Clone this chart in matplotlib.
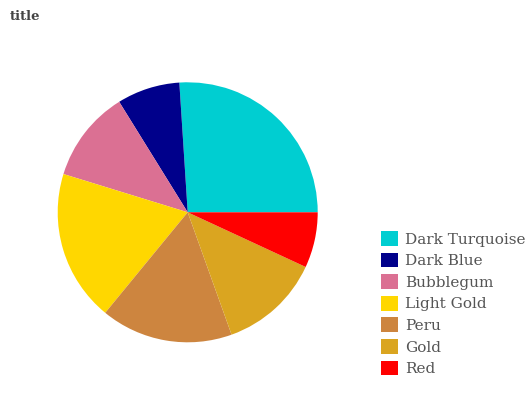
import matplotlib
matplotlib.use("Agg")
import matplotlib.pyplot as plt
from matplotlib.patches import Patch

labels = ["Dark Turquoise", "Dark Blue", "Bubblegum", "Light Gold", "Peru", "Gold", "Red"]
values = [26.0, 7.8, 11.4, 18.8, 16.4, 12.6, 6.9]
colors = ["#00CED1", "#00008B", "#DB7093", "#FFD700", "#CD853F", "#DAA520", "#FF0000"]

W, H = 532, 400
fig = plt.figure(figsize=(W / 100, H / 100), dpi=100)

cx, cy, r = 187.7, 212.3, 130
ax = fig.add_axes([(cx - r) / W, (H - cy - r) / H, 2 * r / W, 2 * r / H])
ax.pie(values, colors=colors, startangle=0, counterclock=True,
       wedgeprops=dict(linewidth=0))
ax.set_xlim(-1, 1)
ax.set_ylim(-1, 1)
ax.set_aspect("equal")
ax.axis("off")

fig.text(10 / W, 1 - 17 / H, "title", family="DejaVu Serif", fontsize=9.5,
         fontweight="bold", color="#444444", va="center", ha="left")

fs = 11.0
fpx = fs * 100 / 72
handles = [Patch(facecolor=c, edgecolor="none") for c in colors]
fig.legend(handles, labels, loc="upper left",
           bbox_to_anchor=(380.7 / W, 1 - 231 / H),
           frameon=False, borderpad=0, borderaxespad=0,
           handlelength=17 / fpx, handleheight=17 / fpx, handletextpad=7.4 / fpx,
           labelspacing=6 / fpx,
           prop=dict(family="DejaVu Serif", size=fs), labelcolor="#555555")

fig.savefig("out.png", dpi=100)
